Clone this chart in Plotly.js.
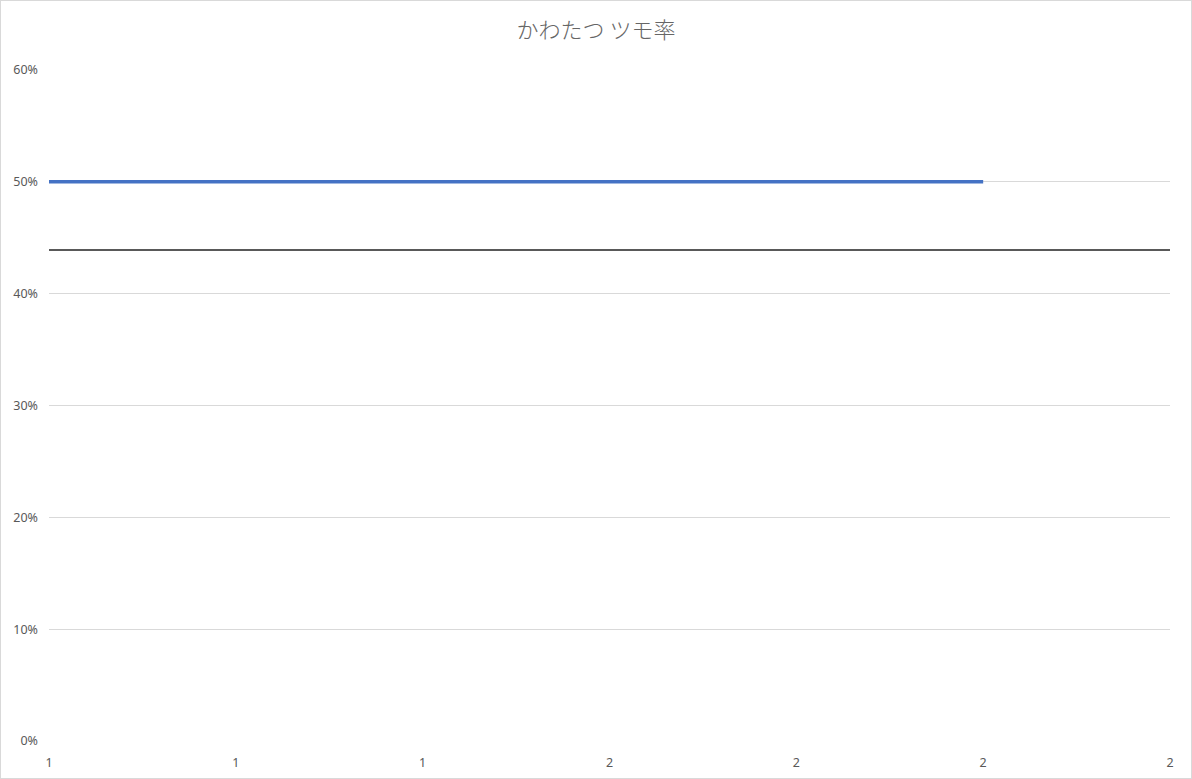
<!DOCTYPE html>
<html>
<head>
<meta charset="utf-8">
<script src="https://cdn.plot.ly/plotly-3.0.1.min.js"></script>
<style>
html,body{margin:0;padding:0;background:#fff;}
#wrap{position:relative;width:1192px;height:779px;}
#chart{position:absolute;left:0;top:0;width:1192px;height:779px;}
#frame{position:absolute;left:0;top:0;width:1190px;height:777px;border:1px solid #d9d9d9;pointer-events:none;}
</style>
</head>
<body>
<div id="wrap"><div id="chart"></div><div id="frame"></div></div>
<script>
const chartTitle = "かわたつ ツモ率";
const games = [1, 2];
const tsumoRate = [0.5, 0.5];
const avgX = [1, 2.2];
const avgRate = [0.439, 0.439];
const xTickVals = [1, 1.2, 1.4, 1.6, 1.8, 2, 2.2];
const xTickText = ["1", "1", "1", "2", "2", "2", "2"];
const yTickVals = [0, 0.1, 0.2, 0.3, 0.4, 0.5, 0.6];
const yTickText = ["0%", "10%", "20%", "30%", "40%", "50%", "60%"];

const fontFam = '"Segoe UI", "Noto Sans", "Noto Sans CJK JP", sans-serif';
const data = [
  {x: avgX, y: avgRate, mode: 'lines', line: {color: '#595959', width: 2}, hoverinfo: 'skip', showlegend: false},
  {x: games, y: tsumoRate, mode: 'lines', line: {color: '#4472C4', width: 3.5}, showlegend: false}
];
const layout = {
  width: 1192, height: 779,
  margin: {l: 49, r: 22, t: 70, b: 38},
  paper_bgcolor: '#fff', plot_bgcolor: '#fff',
  font: {family: fontFam, color: '#595959', size: 12.5},
  title: {text: chartTitle, x: 0.5, xanchor: 'center', y: 0.961, yanchor: 'middle',
          font: {family: '"Noto Sans CJK JP", sans-serif', size: 22, color: '#666666', weight: 300}},
  xaxis: {range: [1, 2.2], tickvals: xTickVals, ticktext: xTickText, showgrid: false,
          zeroline: false, showline: false, ticks: '', ticklabelstandoff: 12, fixedrange: true},
  yaxis: {range: [0, 0.6], tickvals: yTickVals, ticktext: yTickText, showgrid: true,
          gridcolor: '#d9d9d9', gridwidth: 1, zeroline: false, showline: false, ticks: '',
          ticklabelstandoff: 10, fixedrange: true},
  showlegend: false
};
Plotly.newPlot('chart', data, layout, {displayModeBar: false, staticPlot: true});
</script>
</body>
</html>
